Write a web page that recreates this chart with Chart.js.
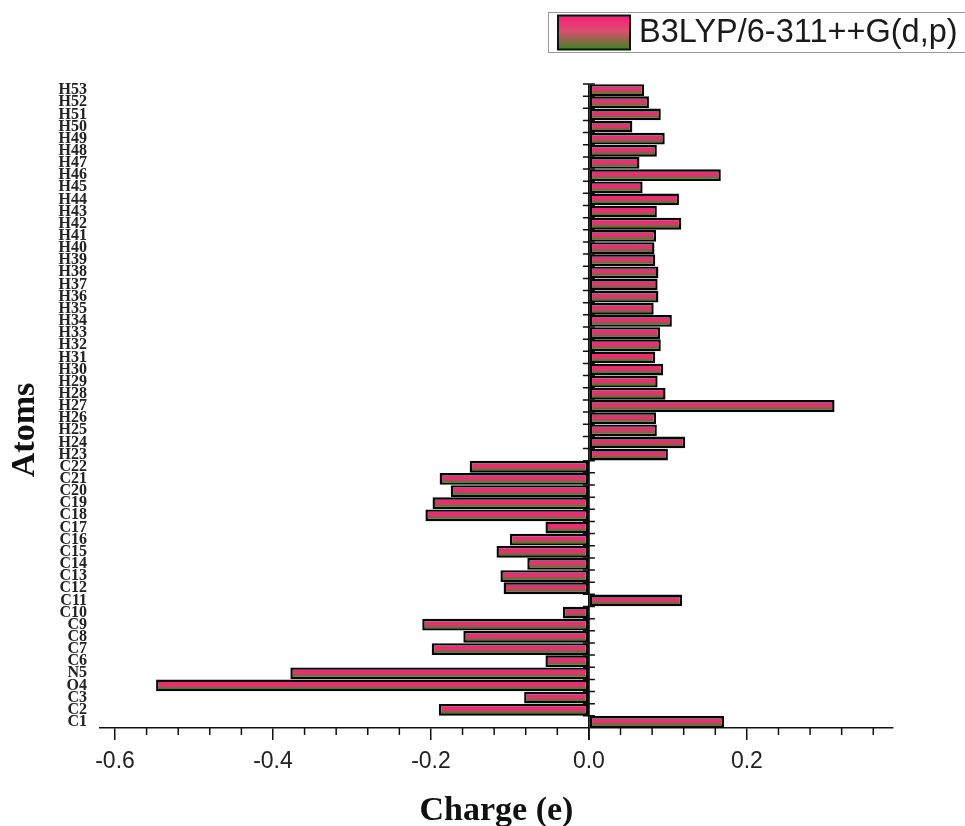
<!DOCTYPE html>
<html>
<head>
<meta charset="utf-8">
<script src="https://cdn.jsdelivr.net/npm/chart.js@4.4.1/dist/chart.umd.min.js"></script>
<style>
  html, body { margin: 0; padding: 0; background: #ffffff; }
  #wrap { width: 965px; height: 826px; position: relative; }
</style>
</head>
<body>
<div id="wrap"><canvas id="c" width="965" height="826"></canvas></div>
<script>
// ---- data (bottom to top) ----
const atoms = ['C1','C2','C3','O4','N5','C6','C7','C8','C9','C10','C11','C12','C13','C14','C15','C16','C17','C18','C19','C20','C21','C22',
  'H23','H24','H25','H26','H27','H28','H29','H30','H31','H32','H33','H34','H35','H36','H37','H38','H39','H40','H41','H42','H43','H44','H45','H46','H47','H48','H49','H50','H51','H52','H53'];
const chargeCarbonEtc = [0.171,-0.190,-0.082,-0.548,-0.378,-0.055,-0.199,-0.159,-0.211,-0.033,0.118,-0.108,-0.112,-0.078,-0.117,-0.100,-0.055,-0.207,-0.198,-0.175,-0.189,-0.151];
const chargeHydrogen = [0.100,0.122,0.086,0.085,0.311,0.097,0.087,0.094,0.084,0.091,0.090,0.105,0.082,0.088,0.087,0.088,0.084,0.083,0.085,0.117,0.086,0.114,0.068,0.167,0.064,0.086,0.096,0.055,0.091,0.076,0.070];
const charges = chargeCarbonEtc.concat(chargeHydrogen);
const seriesName = 'B3LYP/6-311++G(d,p)';
const xMajorTicks = [-0.6,-0.4,-0.2,0.0,0.2];
const xMajorLabels = ['-0.6','-0.4','-0.2','0.0','0.2'];
const xMinorStep = 0.04;
const xAxisTitle = 'Charge (e)';
const yAxisTitle = 'Atoms';

const BAR_PCT = 0.97;

function barGradient(ctx, y0, y1) {
  const g = ctx.createLinearGradient(0, y0, 0, y1);
  g.addColorStop(0, '#f2247a');
  g.addColorStop(0.35, '#e8306f');
  g.addColorStop(0.62, '#b04e5e');
  g.addColorStop(0.85, '#4f7a2c');
  g.addColorStop(1, '#2f6e1c');
  return g;
}

const decor = {
  id: 'decor',
  afterDraw(chart) {
    const { ctx, chartArea: ca, scales } = chart;
    const x = scales.x, y = scales.y;
    ctx.save();
    ctx.strokeStyle = '#111';
    ctx.lineWidth = 1.8;
    const x0 = x.getPixelForValue(0);
    // zero (category) axis line
    ctx.beginPath();
    ctx.moveTo(x0, ca.top);
    ctx.lineTo(x0, ca.bottom + 12);
    ctx.stroke();
    // category boundary ticks
    const n = atoms.length;
    const band = (ca.bottom - ca.top) / n;
    ctx.lineWidth = 1.5;
    ctx.beginPath();
    for (let i = 0; i < n; i++) {
      const yy = y.getPixelForValue(i) - band / 2;
      ctx.moveTo(x0 - 6, yy);
      ctx.lineTo(x0 + 6, yy);
    }
    ctx.stroke();
    // minor x ticks
    ctx.beginPath();
    for (let k = -15; k <= 9; k++) {
      const v = k * xMinorStep;
      if (Math.abs(Math.round(v / 0.2) * 0.2 - v) < 1e-6) continue;
      const px = x.getPixelForValue(v);
      ctx.moveTo(px, ca.bottom);
      ctx.lineTo(px, ca.bottom + 7);
    }
    ctx.stroke();

    // axis titles
    ctx.fillStyle = '#111';
    ctx.font = 'bold 34px "Liberation Serif", "Times New Roman", serif';
    ctx.textAlign = 'center';
    ctx.textBaseline = 'alphabetic';
    ctx.fillText(xAxisTitle, (ca.left + ca.right) / 2, 820);
    ctx.save();
    ctx.translate(34, 430);
    ctx.rotate(-Math.PI / 2);
    ctx.fillText(yAxisTitle, 0, 0);
    ctx.restore();

    // legend
    ctx.fillStyle = '#ffffff';
    ctx.fillRect(548.5, 12.5, 430, 40);
    ctx.strokeStyle = '#999';
    ctx.lineWidth = 1;
    ctx.strokeRect(548.5, 12.5, 430, 40);
    const lg = ctx.createLinearGradient(0, 15, 0, 51);
    lg.addColorStop(0, '#ff1a7c');
    lg.addColorStop(0.45, '#d8506e');
    lg.addColorStop(1, '#2e8a1e');
    ctx.fillStyle = lg;
    ctx.fillRect(558, 15.5, 72, 34);
    ctx.strokeStyle = '#111';
    ctx.lineWidth = 2;
    ctx.strokeRect(558, 15.5, 72, 34);
    ctx.fillStyle = '#1a1a1a';
    ctx.font = '32.5px "Liberation Sans", Arial, sans-serif';
    ctx.textAlign = 'left';
    ctx.textBaseline = 'middle';
    ctx.fillText(seriesName, 639, 33);
    ctx.restore();
  }
};

new Chart(document.getElementById('c'), {
  type: 'bar',
  data: {
    labels: atoms,
    datasets: [{
      label: seriesName,
      data: charges,
      backgroundColor(context) {
        const chart = context.chart;
        if (!chart.chartArea || !chart.scales.y || context.type !== 'data') return '#e2346e';
        const ca = chart.chartArea;
        const band = (ca.bottom - ca.top) / atoms.length;
        const yc = chart.scales.y.getPixelForValue(context.dataIndex);
        const h = band * BAR_PCT / 2 - 1.5;
        return barGradient(chart.ctx, yc - h, yc + h);
      },
      borderColor: '#050505',
      borderWidth: 2.4,
      borderSkipped: false,
      barPercentage: BAR_PCT,
      categoryPercentage: 1.0
    }]
  },
  options: {
    indexAxis: 'y',
    responsive: false,
    animation: false,
    events: [],
    layout: { padding: { top: 84, right: 72, left: 0, bottom: 0 } },
    plugins: { legend: { display: false }, tooltip: { enabled: false }, title: { display: false } },
    scales: {
      x: {
        type: 'linear',
        min: -0.619,
        max: 0.385,
        afterFit(scale) { scale.height = 98; },
        afterBuildTicks(scale) { scale.ticks = xMajorTicks.map(v => ({ value: v })); },
        grid: { drawOnChartArea: false, drawTicks: true, tickLength: 12, tickColor: '#111', lineWidth: 1.5 },
        border: { display: true, color: '#111', width: 1.5 },
        ticks: {
          padding: 8,
          color: '#222',
          font: { family: '"Liberation Sans", Arial, sans-serif', size: 23 },
          callback(value) {
            const i = xMajorTicks.findIndex(t => Math.abs(t - value) < 1e-9);
            return i >= 0 ? xMajorLabels[i] : '';
          }
        }
      },
      y: {
        type: 'category',
        reverse: true,
        offset: true,
        afterFit(scale) { scale.width = 100; },
        grid: { display: false, drawTicks: false },
        border: { display: false },
        ticks: {
          autoSkip: false,
          padding: 13,
          color: '#222',
          font: { family: '"Liberation Serif", "Times New Roman", serif', size: 16, weight: 'bold' }
        }
      }
    }
  },
  plugins: [decor]
});
</script>
</body>
</html>
